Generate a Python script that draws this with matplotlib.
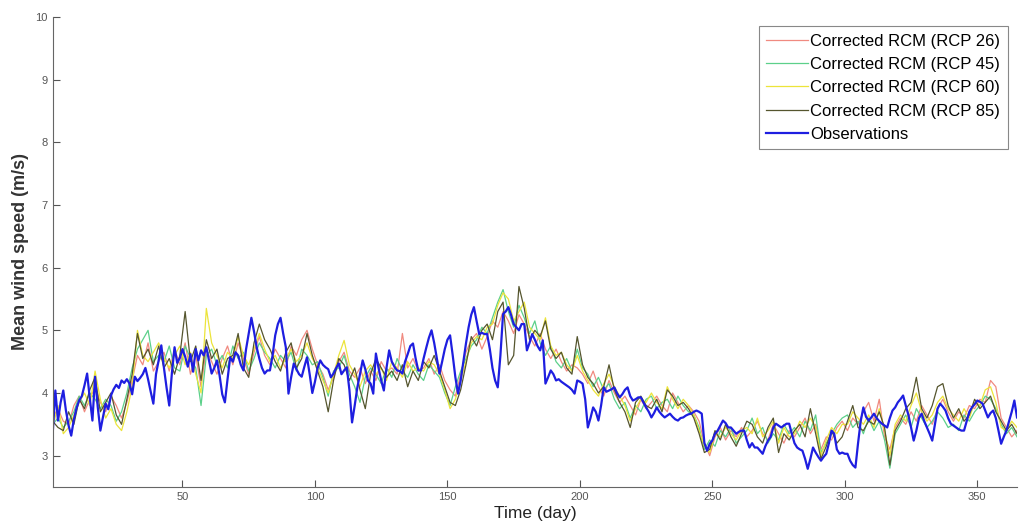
import numpy as np
import matplotlib.pyplot as plt

plt.rcParams['font.family'] = ['Liberation Sans', 'DejaVu Sans']

# observed daily mean wind speed (m/s), days 1..365
obs = [
    3.35, 4.04, 3.56, 3.85, 4.04, 3.72, 3.48, 3.32, 3.58, 3.76,
    3.88, 3.95, 4.12, 4.31, 3.92, 3.56, 4.26, 3.78, 3.40, 3.62,
    3.83, 3.74, 3.96, 4.06, 4.13, 4.08, 4.20, 4.16, 4.22, 4.15,
    3.98, 4.26, 4.19, 4.24, 4.30, 4.40, 4.22, 4.02, 3.83, 4.30,
    4.52, 4.76, 4.40, 4.08, 3.80, 4.32, 4.73, 4.48, 4.56, 4.70,
    4.58, 4.42, 4.62, 4.34, 4.70, 4.52, 4.68, 4.60, 4.73, 4.52,
    4.31, 4.40, 4.52, 4.28, 3.98, 3.85, 4.22, 4.57, 4.50, 4.65,
    4.60, 4.45, 4.36, 4.70, 4.95, 5.20, 4.98, 4.73, 4.55, 4.40,
    4.31, 4.36, 4.36, 4.60, 4.92, 5.10, 5.20, 4.95, 4.73, 3.99,
    4.25, 4.47, 4.38, 4.30, 4.26, 4.42, 4.57, 4.30, 4.00, 4.18,
    4.40, 4.52, 4.45, 4.41, 4.38, 4.25, 4.31, 4.40, 4.47, 4.30,
    4.36, 4.41, 4.05, 3.53, 3.80, 4.09, 4.30, 4.52, 4.38, 4.20,
    4.15, 3.99, 4.63, 4.40, 4.20, 4.04, 4.40, 4.68, 4.50, 4.42,
    4.36, 4.35, 4.31, 4.50, 4.62, 4.75, 4.79, 4.55, 4.36, 4.36,
    4.55, 4.72, 4.88, 5.00, 4.80, 4.55, 4.31, 4.50, 4.70, 4.85,
    4.92, 4.60, 4.25, 3.99, 4.20, 4.50, 4.79, 5.05, 5.25, 5.37,
    5.15, 4.94, 4.96, 4.94, 4.94, 4.70, 4.40, 4.20, 4.09, 4.60,
    5.26, 5.30, 5.37, 5.25, 5.10, 5.05, 5.00, 5.10, 5.10, 4.68,
    4.80, 4.94, 4.85, 4.75, 4.68, 4.84, 4.15, 4.25, 4.36, 4.30,
    4.20, 4.22, 4.18, 4.15, 4.12, 4.09, 4.05, 3.99, 4.20, 4.18,
    4.15, 3.90, 3.45, 3.60, 3.77, 3.70, 3.56, 3.80, 4.09, 4.02,
    4.04, 4.06, 4.09, 4.00, 3.93, 3.98, 4.05, 4.09, 3.95, 3.88,
    3.90, 3.93, 3.93, 3.85, 3.77, 3.70, 3.61, 3.68, 3.77, 3.70,
    3.65, 3.61, 3.64, 3.67, 3.62, 3.58, 3.56, 3.60, 3.61, 3.64,
    3.66, 3.67, 3.70, 3.72, 3.70, 3.67, 3.20, 3.08, 3.19, 3.24,
    3.35, 3.40, 3.48, 3.56, 3.52, 3.45, 3.45, 3.40, 3.35, 3.38,
    3.40, 3.40, 3.25, 3.13, 3.20, 3.13, 3.13, 3.08, 3.03, 3.15,
    3.24, 3.30, 3.45, 3.51, 3.48, 3.45, 3.48, 3.51, 3.51, 3.35,
    3.20, 3.13, 3.10, 3.08, 2.95, 2.79, 2.95, 3.13, 3.05, 2.98,
    2.92, 2.98, 3.03, 3.20, 3.40, 3.35, 3.10, 3.03, 3.05, 3.03,
    3.03, 2.92, 2.85, 2.81, 3.20, 3.55, 3.77, 3.62, 3.56, 3.61,
    3.67, 3.60, 3.55, 3.51, 3.48, 3.45, 3.60, 3.72, 3.77, 3.85,
    3.90, 3.96, 3.80, 3.65, 3.45, 3.24, 3.40, 3.60, 3.67, 3.55,
    3.45, 3.35, 3.24, 3.50, 3.75, 3.83, 3.78, 3.72, 3.60, 3.51,
    3.48, 3.45, 3.42, 3.40, 3.40, 3.55, 3.70, 3.77, 3.82, 3.88,
    3.86, 3.83, 3.72, 3.61, 3.68, 3.72, 3.60, 3.40, 3.19, 3.30,
    3.40, 3.55, 3.70, 3.88, 3.61,
]

# corrected RCM runs, every second day (1, 3, ..., 365)
rcp26 = [
    3.60, 3.75, 3.55, 3.50, 3.80, 3.95, 3.70, 3.90, 4.10, 3.85,
    3.70, 3.95, 3.80, 3.60, 3.85, 4.20, 4.60, 4.45, 4.80, 4.35,
    4.50, 4.65, 4.35, 4.70, 4.45, 4.80, 4.30, 4.60, 4.10, 4.70,
    4.50, 4.30, 4.55, 4.75, 4.45, 4.80, 4.55, 4.30, 4.65, 4.90,
    4.60, 4.45, 4.70, 4.55, 4.40, 4.75, 4.60, 4.85, 5.00, 4.70,
    4.45, 4.30, 4.05, 4.25, 4.50, 4.65, 4.35, 4.25, 4.40, 4.15,
    4.35, 4.20, 4.50, 4.35, 4.40, 4.30, 4.95, 4.40, 4.55, 4.35,
    4.40, 4.55, 4.30, 4.45, 4.20, 4.05, 3.95, 4.30, 4.65, 4.85,
    4.95, 4.70, 4.90, 5.15, 5.05, 5.30, 5.15, 4.95, 5.25, 5.10,
    4.90, 4.75, 4.95, 4.70, 4.55, 4.70, 4.50, 4.35, 4.45, 4.40,
    4.30, 4.15, 4.35, 4.10, 3.95, 4.20, 4.00, 3.85, 3.95, 3.80,
    3.65, 3.90, 3.75, 3.85, 3.95, 3.80, 3.70, 4.00, 3.85, 3.70,
    3.80, 3.70, 3.55, 3.20, 3.00, 3.30, 3.45, 3.25, 3.40, 3.30,
    3.45, 3.30, 3.40, 3.55, 3.35, 3.25, 3.50, 3.35, 3.20, 3.40,
    3.30, 3.45, 3.60, 3.35, 3.50, 3.10, 3.30, 3.25, 3.45, 3.55,
    3.40, 3.60, 3.50, 3.70, 3.85, 3.55, 3.90, 3.30, 3.10, 3.45,
    3.60, 3.50, 3.70, 3.55, 3.80, 3.65, 3.50, 3.75, 3.90, 3.70,
    3.55, 3.70, 3.60, 3.80, 3.75, 3.90, 3.85, 4.20, 4.10, 3.60,
    3.45, 3.30, 3.40,
]
rcp45 = [
    3.50, 3.60, 3.45, 3.55, 3.70, 3.95, 3.80, 4.00, 3.90, 3.75,
    3.90, 3.80, 3.55, 3.70, 4.00, 4.40, 4.70, 4.85, 5.00, 4.50,
    4.60, 4.50, 4.75, 4.40, 4.35, 4.75, 4.55, 4.40, 3.80, 4.60,
    4.70, 4.45, 4.60, 4.40, 4.75, 4.55, 4.65, 4.35, 4.55, 4.80,
    4.65, 4.55, 4.40, 4.60, 4.50, 4.65, 4.35, 4.70, 4.60, 4.45,
    4.50, 4.25, 3.95, 4.35, 4.40, 4.60, 4.30, 4.10, 3.85, 4.25,
    4.40, 4.30, 4.15, 4.40, 4.25, 4.55, 4.35, 4.25, 4.45, 4.30,
    4.20, 4.45, 4.35, 4.25, 4.00, 3.80, 4.10, 4.35, 4.55, 4.75,
    4.85, 5.05, 4.95, 5.20, 5.45, 5.65, 5.30, 5.05, 5.40, 5.20,
    4.95, 5.15, 4.80, 4.60, 4.75, 4.50, 4.40, 4.55, 4.35, 4.70,
    4.40, 4.30, 4.10, 4.25, 4.05, 4.15, 3.90, 3.75, 3.85, 3.60,
    3.80, 3.70, 3.90, 3.95, 3.75, 3.85, 3.90, 3.75, 3.95, 3.80,
    3.70, 3.65, 3.45, 3.10, 3.25, 3.15, 3.40, 3.30, 3.45, 3.20,
    3.30, 3.40, 3.60, 3.35, 3.45, 3.20, 3.35, 3.25, 3.50, 3.35,
    3.45, 3.30, 3.55, 3.40, 3.65, 3.05, 3.20, 3.35, 3.50, 3.60,
    3.65, 3.45, 3.55, 3.35, 3.60, 3.40, 3.55, 3.25, 2.80, 3.35,
    3.50, 3.65, 3.45, 3.75, 3.60, 3.45, 3.55, 3.70, 3.60, 3.45,
    3.50, 3.40, 3.65, 3.55, 3.70, 3.80, 3.95, 3.90, 3.75, 3.50,
    3.35, 3.45, 3.30,
]
rcp60 = [
    3.45, 3.80, 3.35, 3.45, 3.65, 3.85, 4.00, 3.80, 4.35, 3.90,
    3.60, 3.75, 3.50, 3.40, 3.70, 4.10, 5.00, 4.60, 4.50, 4.65,
    4.80, 4.55, 4.40, 4.60, 4.75, 4.45, 4.65, 4.30, 4.00, 5.35,
    4.80, 4.60, 4.40, 4.65, 4.55, 4.90, 4.60, 4.45, 4.70, 4.95,
    4.70, 4.50, 4.60, 4.40, 4.55, 4.70, 4.50, 4.60, 4.80, 4.55,
    4.40, 4.20, 4.00, 4.30, 4.60, 4.84, 4.45, 4.30, 4.10, 4.35,
    4.45, 4.30, 4.40, 4.20, 4.50, 4.40, 4.25, 4.50, 4.35, 4.40,
    4.35, 4.50, 4.45, 4.30, 4.05, 3.75, 3.90, 4.20, 4.50, 4.80,
    4.90, 4.85, 5.05, 5.10, 5.40, 5.60, 5.50, 5.15, 5.30, 5.45,
    5.05, 4.95, 4.85, 5.20, 4.75, 4.60, 4.65, 4.45, 4.35, 4.60,
    4.35, 4.20, 4.05, 3.95, 4.15, 4.30, 4.10, 3.95, 3.80, 3.55,
    3.75, 3.90, 3.85, 4.00, 3.85, 3.75, 4.10, 3.90, 3.75, 3.90,
    3.80, 3.65, 3.40, 3.15, 3.05, 3.35, 3.30, 3.45, 3.35, 3.25,
    3.40, 3.45, 3.35, 3.60, 3.30, 3.40, 3.55, 3.20, 3.45, 3.30,
    3.35, 3.55, 3.45, 3.60, 3.45, 3.00, 3.25, 3.45, 3.35, 3.50,
    3.50, 3.70, 3.60, 3.50, 3.65, 3.45, 3.75, 3.40, 3.00, 3.50,
    3.65, 3.55, 3.80, 4.00, 3.70, 3.55, 3.65, 3.85, 3.95, 3.75,
    3.65, 3.55, 3.75, 3.60, 3.85, 3.80, 4.05, 4.10, 3.85, 3.45,
    3.40, 3.55, 3.45,
]
rcp85 = [
    3.55, 3.45, 3.40, 3.70, 3.50, 3.90, 3.75, 4.05, 4.25, 3.70,
    3.85, 4.00, 3.65, 3.50, 3.90, 4.30, 4.95, 4.55, 4.70, 4.45,
    4.75, 4.40, 4.55, 4.30, 4.60, 5.30, 4.50, 4.75, 4.20, 4.85,
    4.55, 4.70, 4.30, 4.55, 4.60, 4.95, 4.40, 4.25, 4.80, 5.10,
    4.85, 4.70, 4.50, 4.35, 4.65, 4.80, 4.40, 4.55, 4.95, 4.60,
    4.35, 4.10, 3.70, 4.20, 4.55, 4.45, 4.20, 4.40, 4.05, 3.75,
    4.30, 4.55, 4.40, 4.25, 4.35, 4.20, 4.45, 4.10, 4.35, 4.20,
    4.50, 4.40, 4.60, 4.35, 4.10, 3.85, 3.80, 4.05, 4.45, 4.90,
    4.75, 5.00, 5.10, 4.85, 5.30, 5.45, 4.45, 4.60, 5.70, 5.35,
    4.85, 5.00, 4.90, 5.15, 4.70, 4.55, 4.65, 4.40, 4.30, 4.90,
    4.45, 4.25, 4.15, 4.00, 4.10, 4.45, 4.05, 3.85, 3.70, 3.45,
    3.85, 3.95, 3.80, 3.75, 3.90, 3.70, 4.05, 3.95, 3.80, 3.85,
    3.75, 3.60, 3.35, 3.05, 3.10, 3.40, 3.25, 3.50, 3.30, 3.15,
    3.35, 3.55, 3.50, 3.30, 3.20, 3.45, 3.60, 3.05, 3.35, 3.25,
    3.40, 3.50, 3.30, 3.75, 3.35, 2.95, 3.15, 3.40, 3.20, 3.30,
    3.55, 3.80, 3.45, 3.40, 3.55, 3.50, 3.70, 3.45, 2.85, 3.40,
    3.55, 3.75, 3.85, 4.25, 3.75, 3.60, 3.80, 4.10, 4.15, 3.80,
    3.60, 3.75, 3.55, 3.65, 3.90, 3.75, 3.85, 3.95, 3.70, 3.55,
    3.40, 3.50, 3.35,
]

days = np.arange(1, len(obs) + 1)
days2 = np.arange(1, 366, 2)

fig = plt.figure(figsize=(10.21, 5.29), dpi=100)
ax = fig.add_axes([0.0516, 0.0794, 0.9445, 0.8885])

ax.plot(days2, rcp26, color='#f08a80', lw=0.9, label='Corrected RCM (RCP 26)')
ax.plot(days2, rcp45, color='#5cd08a', lw=0.9, label='Corrected RCM (RCP 45)')
ax.plot(days2, rcp60, color='#ece43a', lw=0.9, label='Corrected RCM (RCP 60)')
ax.plot(days2, rcp85, color='#55552e', lw=0.9, label='Corrected RCM (RCP 85)')
ax.plot(days, obs, color='#1e1ee0', lw=1.6, label='Observations')

ax.set_xlim(1, 365)
ax.set_ylim(2.5, 10)
ax.set_xticks(range(50, 351, 50))
ax.set_yticks(range(3, 11))
for s in ['top', 'right']:
    ax.spines[s].set_visible(False)
for s in ['left', 'bottom']:
    ax.spines[s].set_color('#666666')
ax.tick_params(direction='in', length=5, colors='#555555', labelsize=8)

ax.set_xlabel('Time (day)', fontsize=12.5, color='#222222', labelpad=3)
ax.set_ylabel('Mean wind speed (m/s)', fontsize=13, fontweight='bold',
              color='#333333', labelpad=5)

leg = ax.legend(loc='upper right', fontsize=12, frameon=True, fancybox=False,
                framealpha=1, edgecolor='#888888', handlelength=2.5,
                handletextpad=0.15, borderpad=0.45, labelspacing=0.5,
                borderaxespad=0.55)
leg.get_frame().set_linewidth(0.8)

fig.savefig('out.png', dpi=100)
